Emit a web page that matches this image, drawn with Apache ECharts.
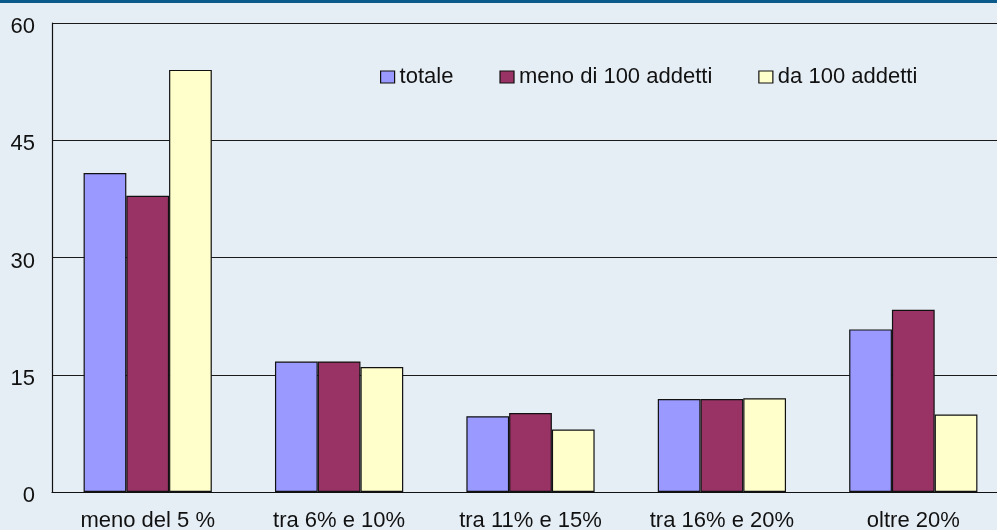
<!DOCTYPE html>
<html>
<head>
<meta charset="utf-8">
<script src="https://cdn.jsdelivr.net/npm/echarts@6/dist/echarts.min.js"></script>
<style>
    html, body { margin: 0; padding: 0; background: #E6EEF5; }
    #container { width: 997px; height: 530px; }
</style>
</head>
<body>
<div id="container"></div>
<script>
var categories = ['meno del 5 %', 'tra 6% e 10%', 'tra 11% e 15%', 'tra 16% e 20%', 'oltre 20%'];
var seriesNames = ['totale', 'meno di 100 addetti', 'da 100 addetti'];
var totale = [40.8, 16.7, 9.7, 11.9, 20.8];
var menoDi100 = [37.9, 16.7, 10.1, 11.9, 23.3];
var da100 = [54.0, 16.0, 8.0, 12.0, 9.9];
var yTicks = [0, 15, 30, 45, 60];
var colors = ['#9999FF', '#993366', '#FFFFCC'];

function initChart(echarts) {
    var myChart = echarts.init(document.getElementById('container'));
    var values = [totale, menoDi100, da100];
    var series = [];
    for (var i = 0; i < seriesNames.length; i++) {
        series.push({
            name: seriesNames[i],
            type: 'bar',
            data: values[i],
            barGap: '0%',
            barCategoryGap: '33%',
            itemStyle: {color: colors[i], borderColor: '#111', borderWidth: 1.2}
        });
    }
    var option = {
        backgroundColor: '#E6EEF5',
        animation: false,
        textStyle: {fontFamily: 'Liberation Sans, Arial, sans-serif'},
        graphic: [{
            type: 'rect',
            shape: {x: 0, y: 0, width: 997, height: 3},
            style: {fill: '#0B5A8C'}
        }],
        legend: {
            left: 375,
            top: 61,
            itemWidth: 14,
            itemHeight: 12,
            itemGap: 46,
            icon: 'rect',
            data: seriesNames,
            itemStyle: {borderColor: '#111', borderWidth: 1.2},
            textStyle: {fontSize: 22, color: '#111', padding: [4, 0, 0, 0]}
        },
        grid: {left: 52, top: 23, width: 957, height: 469, outerBoundsMode: 'none', containLabel: false},
        xAxis: {
            type: 'category',
            data: categories,
            axisLine: {lineStyle: {color: '#111', width: 1.2}},
            axisTick: {show: false},
            axisLabel: {fontSize: 22, color: '#111', margin: 18, interval: 0}
        },
        yAxis: {
            type: 'value',
            min: yTicks[0],
            max: yTicks[yTicks.length - 1],
            interval: yTicks[1] - yTicks[0],
            axisLine: {show: true, lineStyle: {color: '#111', width: 1.2}},
            axisTick: {show: false},
            axisLabel: {
                margin: 17,
                formatter: '{v|{value}}',
                rich: {v: {fontSize: 22, color: '#111', padding: [8, 0, 0, 0]}}
            },
            splitLine: {show: true, lineStyle: {color: '#1a1a1a', width: 1}}
        },
        series: series
    };
    myChart.setOption(option);
}

initChart(echarts);
</script>
</body>
</html>
